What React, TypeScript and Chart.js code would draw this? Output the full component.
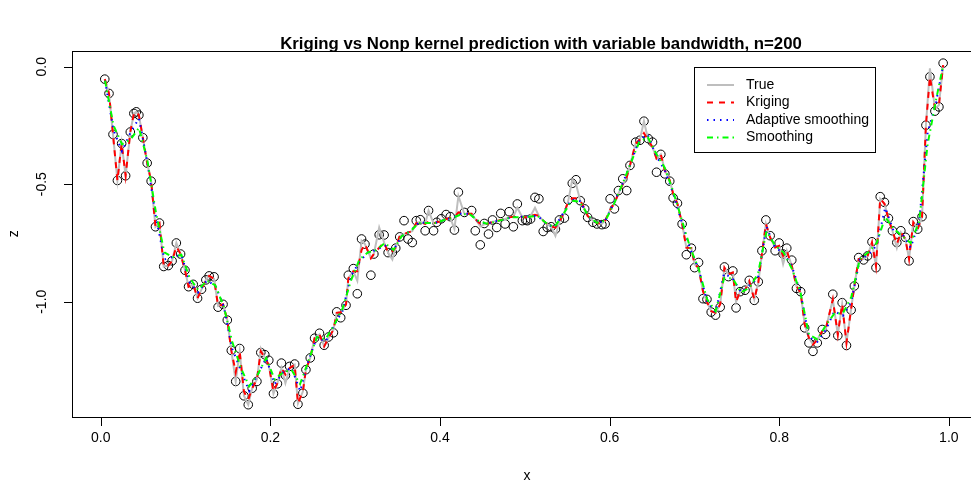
import React, { useEffect, useRef } from "react";
import { Chart, registerables } from "chart.js";

Chart.register(...registerables);

const TITLE = "Kriging vs Nonp kernel prediction with variable bandwidth, n=200";
const X_TICKS = [0, 0.2, 0.4, 0.6, 0.8, 1.0];
const X_TICK_LABELS = ["0.0", "0.2", "0.4", "0.6", "0.8", "1.0"];
const Y_TICKS = [0, -0.5, -1.0];
const Y_TICK_LABELS = ["0.0", "-0.5", "-1.0"];
const LEGEND_LABELS = ["True", "Kriging", "Adaptive smoothing", "Smoothing"];

const xObs = [
  0.0047, 0.0097, 0.0144, 0.0196, 0.0246, 0.0293, 0.0348, 0.0390, 0.0419, 0.0449,
  0.0496, 0.0547, 0.0594, 0.0645, 0.0692, 0.0742, 0.0797, 0.0841, 0.0891, 0.0941,
  0.0993, 0.1035, 0.1090, 0.1141, 0.1188, 0.1239, 0.1278, 0.1336, 0.1383, 0.1442,
  0.1492, 0.1539, 0.1591, 0.1638, 0.1688, 0.1739, 0.1785, 0.1841, 0.1887, 0.1934,
  0.1981, 0.2036, 0.2083, 0.2130, 0.2177, 0.2227, 0.2286, 0.2325, 0.2383, 0.2419,
  0.2470, 0.2521, 0.2579, 0.2634, 0.2685, 0.2743, 0.2782, 0.2829, 0.2892, 0.2919,
  0.2978, 0.3025, 0.3075, 0.3115, 0.3185, 0.3220, 0.3283, 0.3341, 0.3388, 0.3438,
  0.3478, 0.3525, 0.3576, 0.3623, 0.3673, 0.3720, 0.3767, 0.3825, 0.3865, 0.3924,
  0.3962, 0.4015, 0.4072, 0.4121, 0.4170, 0.4217, 0.4287, 0.4373, 0.4416, 0.4475,
  0.4522, 0.4572, 0.4619, 0.4669, 0.4716, 0.4768, 0.4815, 0.4865, 0.4912, 0.4971,
  0.5009, 0.5029, 0.5068, 0.5120, 0.5166, 0.5217, 0.5264, 0.5311, 0.5361, 0.5408,
  0.5467, 0.5510, 0.5560, 0.5604, 0.5654, 0.5706, 0.5741, 0.5803, 0.5850, 0.5909,
  0.5947, 0.6006, 0.6057, 0.6104, 0.6155, 0.6202, 0.6240, 0.6307, 0.6358, 0.6405,
  0.6456, 0.6506, 0.6553, 0.6604, 0.6651, 0.6709, 0.6749, 0.6800, 0.6855, 0.6905,
  0.6964, 0.7002, 0.7049, 0.7101, 0.7148, 0.7198, 0.7249, 0.7304, 0.7354, 0.7401,
  0.7453, 0.7491, 0.7538, 0.7597, 0.7647, 0.7706, 0.7753, 0.7796, 0.7843, 0.7893,
  0.7952, 0.7999, 0.8046, 0.8089, 0.8148, 0.8203, 0.8253, 0.8300, 0.8351, 0.8398,
  0.8449, 0.8508, 0.8546, 0.8632, 0.8691, 0.8742, 0.8793, 0.8848, 0.8886, 0.8937,
  0.8995, 0.9042, 0.9094, 0.9141, 0.9191, 0.9241, 0.9288, 0.9335, 0.9387, 0.9434,
  0.9488, 0.9531, 0.9581, 0.9633, 0.9684, 0.9730, 0.9777, 0.9836, 0.9883, 0.9933,
];

const zObs = [
  -0.053, -0.114, -0.288, -0.484, -0.327, -0.464, -0.278, -0.199, -0.192, -0.206,
  -0.302, -0.410, -0.487, -0.681, -0.665, -0.850, -0.846, -0.826, -0.750, -0.797,
  -0.866, -0.936, -0.926, -0.985, -0.947, -0.907, -0.890, -0.894, -1.023, -1.011,
  -1.078, -1.207, -1.339, -1.199, -1.400, -1.438, -1.368, -1.339, -1.216, -1.225,
  -1.249, -1.391, -1.349, -1.261, -1.313, -1.275, -1.265, -1.436, -1.389, -1.289,
  -1.239, -1.155, -1.134, -1.185, -1.150, -1.132, -1.043, -1.068, -1.015, -0.887,
  -0.859, -0.966, -0.733, -0.755, -0.887, -0.797, -0.715, -0.716, -0.791, -0.791,
  -0.772, -0.724, -0.655, -0.733, -0.748, -0.655, -0.651, -0.698, -0.612, -0.698,
  -0.662, -0.647, -0.629, -0.638, -0.695, -0.534, -0.620, -0.612, -0.698, -0.758,
  -0.667, -0.712, -0.652, -0.684, -0.624, -0.669, -0.617, -0.681, -0.584, -0.655,
  -0.652, -0.655, -0.648, -0.556, -0.562, -0.701, -0.684, -0.681, -0.691, -0.652,
  -0.644, -0.567, -0.496, -0.481, -0.570, -0.605, -0.641, -0.662, -0.669, -0.672,
  -0.669, -0.562, -0.605, -0.527, -0.477, -0.527, -0.420, -0.321, -0.313, -0.232,
  -0.306, -0.321, -0.449, -0.373, -0.456, -0.487, -0.558, -0.581, -0.669, -0.800,
  -0.772, -0.855, -0.833, -0.987, -0.990, -1.044, -1.057, -1.023, -0.852, -0.893,
  -0.869, -1.026, -0.957, -0.951, -0.909, -0.994, -0.915, -0.783, -0.652, -0.719,
  -0.783, -0.750, -0.797, -0.772, -0.823, -0.943, -0.957, -1.111, -1.175, -1.211,
  -1.175, -1.118, -1.139, -0.968, -1.144, -1.004, -1.186, -1.035, -0.933, -0.812,
  -0.822, -0.805, -0.745, -0.855, -0.553, -0.577, -0.645, -0.698, -0.748, -0.698,
  -0.726, -0.826, -0.659, -0.691, -0.638, -0.249, -0.043, -0.189, -0.171, 0.015,
];

const zTrue = [
  -0.053, -0.114, -0.288, -0.484, -0.327, -0.464, -0.278, -0.199, -0.192, -0.206,
  -0.302, -0.410, -0.487, -0.681, -0.665, -0.850, -0.846, -0.826, -0.750, -0.797,
  -0.866, -0.936, -0.926, -0.985, -0.947, -0.907, -0.890, -0.903, -1.018, -1.011,
  -1.078, -1.207, -1.339, -1.211, -1.400, -1.438, -1.368, -1.331, -1.200, -1.239,
  -1.268, -1.391, -1.346, -1.282, -1.346, -1.282, -1.268, -1.432, -1.382, -1.288,
  -1.239, -1.155, -1.139, -1.190, -1.154, -1.120, -1.047, -1.045, -1.011, -0.900,
  -0.870, -0.911, -0.740, -0.755, -0.815, -0.797, -0.684, -0.748, -0.791, -0.820,
  -0.769, -0.720, -0.712, -0.705, -0.700, -0.665, -0.660, -0.669, -0.612, -0.667,
  -0.662, -0.657, -0.648, -0.643, -0.690, -0.550, -0.626, -0.626, -0.648, -0.680,
  -0.670, -0.667, -0.660, -0.657, -0.652, -0.648, -0.641, -0.638, -0.600, -0.640,
  -0.640, -0.640, -0.635, -0.600, -0.635, -0.655, -0.670, -0.680, -0.720, -0.660,
  -0.620, -0.575, -0.480, -0.500, -0.570, -0.605, -0.635, -0.655, -0.665, -0.668,
  -0.655, -0.610, -0.580, -0.540, -0.500, -0.470, -0.420, -0.327, -0.310, -0.232,
  -0.313, -0.342, -0.390, -0.373, -0.441, -0.484, -0.540, -0.583, -0.669, -0.770,
  -0.772, -0.840, -0.856, -0.955, -1.000, -1.040, -1.047, -1.010, -0.855, -0.883,
  -0.875, -1.000, -0.957, -0.951, -0.912, -0.990, -0.919, -0.797, -0.669, -0.726,
  -0.769, -0.762, -0.840, -0.783, -0.847, -0.933, -0.962, -1.096, -1.154, -1.182,
  -1.161, -1.125, -1.120, -0.990, -1.140, -1.010, -1.175, -1.031, -0.933, -0.818,
  -0.818, -0.805, -0.748, -0.848, -0.562, -0.583, -0.647, -0.698, -0.770, -0.705,
  -0.733, -0.818, -0.662, -0.690, -0.641, -0.249, -0.007, -0.177, -0.164, 0.007,
];

const zKrig = [
  -0.053, -0.114, -0.288, -0.484, -0.327, -0.464, -0.278, -0.199, -0.192, -0.206,
  -0.302, -0.410, -0.487, -0.681, -0.665, -0.850, -0.846, -0.826, -0.765, -0.797,
  -0.866, -0.936, -0.926, -0.985, -0.947, -0.907, -0.890, -0.903, -1.018, -1.011,
  -1.078, -1.207, -1.300, -1.211, -1.382, -1.416, -1.368, -1.331, -1.211, -1.239,
  -1.268, -1.382, -1.346, -1.282, -1.310, -1.282, -1.268, -1.432, -1.382, -1.288,
  -1.239, -1.155, -1.139, -1.190, -1.154, -1.120, -1.047, -1.045, -1.011, -0.900,
  -0.870, -0.870, -0.780, -0.755, -0.815, -0.797, -0.770, -0.748, -0.791, -0.785,
  -0.769, -0.720, -0.712, -0.705, -0.700, -0.665, -0.660, -0.669, -0.660, -0.667,
  -0.662, -0.657, -0.648, -0.643, -0.640, -0.620, -0.626, -0.626, -0.648, -0.669,
  -0.670, -0.667, -0.660, -0.657, -0.652, -0.648, -0.641, -0.638, -0.636, -0.640,
  -0.640, -0.640, -0.635, -0.630, -0.635, -0.655, -0.670, -0.680, -0.685, -0.660,
  -0.620, -0.575, -0.560, -0.560, -0.570, -0.605, -0.635, -0.655, -0.665, -0.668,
  -0.655, -0.610, -0.580, -0.540, -0.500, -0.470, -0.420, -0.327, -0.310, -0.283,
  -0.313, -0.342, -0.390, -0.373, -0.441, -0.484, -0.540, -0.583, -0.669, -0.770,
  -0.772, -0.840, -0.856, -0.955, -1.000, -1.040, -1.047, -1.010, -0.855, -0.883,
  -0.875, -1.000, -0.957, -0.951, -0.912, -0.990, -0.919, -0.797, -0.669, -0.726,
  -0.769, -0.762, -0.805, -0.783, -0.847, -0.933, -0.962, -1.096, -1.154, -1.182,
  -1.161, -1.125, -1.120, -0.990, -1.140, -1.010, -1.175, -1.031, -0.933, -0.818,
  -0.818, -0.805, -0.748, -0.848, -0.562, -0.583, -0.647, -0.698, -0.755, -0.705,
  -0.733, -0.818, -0.662, -0.690, -0.641, -0.249, -0.043, -0.177, -0.164, 0.007,
];

const xGrid = [
  0.005, 0.015, 0.025, 0.035, 0.045, 0.055, 0.065, 0.075, 0.085, 0.095,
  0.105, 0.115, 0.125, 0.135, 0.145, 0.155, 0.165, 0.175, 0.185, 0.195,
  0.205, 0.215, 0.225, 0.235, 0.245, 0.255, 0.265, 0.275, 0.285, 0.295,
  0.305, 0.315, 0.325, 0.335, 0.345, 0.355, 0.365, 0.375, 0.385, 0.395,
  0.405, 0.415, 0.425, 0.435, 0.445, 0.455, 0.465, 0.475, 0.485, 0.495,
  0.505, 0.515, 0.525, 0.535, 0.545, 0.555, 0.565, 0.575, 0.585, 0.595,
  0.605, 0.615, 0.625, 0.635, 0.645, 0.655, 0.665, 0.675, 0.685, 0.695,
  0.705, 0.715, 0.725, 0.735, 0.745, 0.755, 0.765, 0.775, 0.785, 0.795,
  0.805, 0.815, 0.825, 0.835, 0.845, 0.855, 0.865, 0.875, 0.885, 0.895,
  0.905, 0.915, 0.925, 0.935, 0.945, 0.955, 0.965, 0.975, 0.985, 0.993,
];

const zAdaptive = [
  -0.06, -0.27, -0.36, -0.28, -0.22, -0.41, -0.64, -0.82, -0.81, -0.80,
  -0.92, -0.96, -0.91, -0.93, -1.02, -1.20, -1.29, -1.38, -1.31, -1.24,
  -1.35, -1.30, -1.28, -1.38, -1.25, -1.15, -1.17, -1.10, -1.04, -0.89,
  -0.83, -0.79, -0.78, -0.76, -0.78, -0.72, -0.70, -0.662, -0.665, -0.664,
  -0.652, -0.642, -0.625, -0.626, -0.658, -0.668, -0.658, -0.650, -0.640, -0.639,
  -0.637, -0.634, -0.668, -0.684, -0.625, -0.565, -0.572, -0.638, -0.666, -0.655,
  -0.58, -0.50, -0.41, -0.31, -0.29, -0.38, -0.44, -0.54, -0.66, -0.775,
  -0.86, -1.00, -1.045, -0.88, -0.90, -0.96, -0.93, -0.90, -0.68, -0.77,
  -0.79, -0.85, -0.96, -1.15, -1.17, -1.12, -1.04, -1.06, -1.00, -0.82,
  -0.80, -0.76, -0.60, -0.70, -0.71, -0.77, -0.66, -0.28, -0.15, 0.0,
];

const zSmooth = [
  -0.06, -0.25, -0.33, -0.31, -0.26, -0.40, -0.62, -0.79, -0.81, -0.80,
  -0.90, -0.95, -0.91, -0.93, -1.02, -1.17, -1.28, -1.36, -1.31, -1.24,
  -1.33, -1.30, -1.29, -1.35, -1.25, -1.15, -1.16, -1.10, -1.03, -0.91,
  -0.82, -0.79, -0.78, -0.75, -0.78, -0.72, -0.70, -0.665, -0.665, -0.665,
  -0.652, -0.643, -0.628, -0.628, -0.655, -0.668, -0.660, -0.650, -0.640, -0.640,
  -0.638, -0.635, -0.665, -0.682, -0.630, -0.570, -0.575, -0.635, -0.665, -0.655,
  -0.585, -0.50, -0.41, -0.32, -0.30, -0.37, -0.43, -0.53, -0.65, -0.77,
  -0.86, -0.99, -1.04, -0.90, -0.90, -0.96, -0.94, -0.88, -0.70, -0.76,
  -0.79, -0.86, -0.96, -1.14, -1.16, -1.10, -1.05, -1.05, -0.98, -0.82,
  -0.79, -0.75, -0.64, -0.69, -0.72, -0.75, -0.66, -0.33, -0.14, 0.0,
];

const FONT = "'Liberation Sans', Arial, Helvetica, sans-serif";
const COL_TRUE = "#BEBEBE";
const COL_KRIG = "#FF0000";
const COL_ADAPT = "#0000FF";
const COL_SMOOTH = "#00FF00";
const DASH_KRIG = [6, 6];
const DASH_ADAPT = [1.5, 5];
const DASH_SMOOTH = [6, 4, 1.5, 4];

const pts = (xs: number[], ys: number[]) => xs.map((x, i) => ({ x, y: ys[i] }));

const decor = {
  id: "rDecor",
  afterDraw(chart: any) {
    const { ctx, chartArea: ca, scales } = chart;
    const xs = scales.x;
    const ys = scales.y;
    ctx.save();
    ctx.strokeStyle = "#000";
    ctx.lineWidth = 1;
    ctx.setLineDash([]);
    // box
    ctx.strokeRect(Math.round(ca.left) + 0.5, Math.round(ca.top) + 0.5, ca.right - ca.left + 30, Math.round(ca.bottom - ca.top));
    const bottom = Math.round(ca.bottom) + 0.5;
    const left = Math.round(ca.left) + 0.5;
    // x axis
    ctx.beginPath();
    ctx.moveTo(xs.getPixelForValue(X_TICKS[0]), bottom);
    ctx.lineTo(xs.getPixelForValue(X_TICKS[X_TICKS.length - 1]), bottom);
    X_TICKS.forEach((v) => {
      const px = Math.round(xs.getPixelForValue(v)) + 0.5;
      ctx.moveTo(px, bottom);
      ctx.lineTo(px, bottom + 8.5);
    });
    // y axis
    ctx.moveTo(left, ys.getPixelForValue(Y_TICKS[0]));
    ctx.lineTo(left, ys.getPixelForValue(Y_TICKS[Y_TICKS.length - 1]));
    Y_TICKS.forEach((v) => {
      const py = Math.round(ys.getPixelForValue(v)) + 0.5;
      ctx.moveTo(left, py);
      ctx.lineTo(left - 8.5, py);
    });
    ctx.stroke();

    ctx.fillStyle = "#000";
    ctx.font = `14px ${FONT}`;
    ctx.textAlign = "center";
    ctx.textBaseline = "middle";
    X_TICKS.forEach((v, i) => {
      ctx.fillText(X_TICK_LABELS[i], xs.getPixelForValue(v), bottom + 21);
    });
    Y_TICKS.forEach((v, i) => {
      ctx.save();
      ctx.translate(left - 30, ys.getPixelForValue(v));
      ctx.rotate(-Math.PI / 2);
      ctx.fillText(Y_TICK_LABELS[i], 0, 0);
      ctx.restore();
    });
    // axis titles
    ctx.fillText("x", 527, 476);
    ctx.save();
    ctx.translate(14, (ca.top + ca.bottom) / 2);
    ctx.rotate(-Math.PI / 2);
    ctx.fillText("z", 0, 0);
    ctx.restore();
    // title
    ctx.font = `bold 16.8px ${FONT}`;
    ctx.fillText(TITLE, 541, 44);

    // legend
    const lx = 694.5, ly = 67.5, lw = 181, lh = 85;
    ctx.fillStyle = "#fff";
    ctx.fillRect(lx, ly, lw, lh);
    ctx.strokeStyle = "#000";
    ctx.strokeRect(lx, ly, lw, lh);
    const rows = [85, 102.5, 120, 137.5];
    const styles = [
      { c: COL_TRUE, d: [] as number[], w: 2 },
      { c: COL_KRIG, d: DASH_KRIG, w: 2 },
      { c: COL_ADAPT, d: DASH_ADAPT, w: 2 },
      { c: COL_SMOOTH, d: DASH_SMOOTH, w: 2 },
    ];
    ctx.font = `14px ${FONT}`;
    ctx.textAlign = "left";
    rows.forEach((ry, i) => {
      const s = styles[i];
      ctx.strokeStyle = s.c;
      ctx.lineWidth = s.w;
      ctx.setLineDash(s.d);
      ctx.beginPath();
      ctx.moveTo(707, ry);
      ctx.lineTo(734, ry);
      ctx.stroke();
      ctx.setLineDash([]);
      ctx.fillStyle = "#000";
      ctx.fillText(LEGEND_LABELS[i], 746, ry);
    });
    ctx.restore();
  },
};

export default function App() {
  const ref = useRef<HTMLCanvasElement | null>(null);
  useEffect(() => {
    document.body.style.margin = "0";
    const canvas = ref.current;
    if (!canvas) return;
    const chart = new Chart(canvas, {
      type: "scatter",
      data: {
        datasets: [
          {
            label: "Smoothing",
            data: pts(xGrid, zSmooth),
            showLine: true,
            borderColor: COL_SMOOTH,
            borderWidth: 2,
            borderDash: DASH_SMOOTH,
            pointRadius: 0,
            order: 0,
          },
          {
            label: "Adaptive smoothing",
            data: pts(xGrid, zAdaptive),
            showLine: true,
            borderColor: COL_ADAPT,
            borderWidth: 2,
            borderDash: DASH_ADAPT,
            pointRadius: 0,
            order: 1,
          },
          {
            label: "Kriging",
            data: pts(xObs, zKrig),
            showLine: true,
            borderColor: COL_KRIG,
            borderWidth: 2,
            borderDash: DASH_KRIG,
            pointRadius: 0,
            order: 2,
          },
          {
            label: "True",
            data: pts(xObs, zTrue),
            showLine: true,
            borderColor: COL_TRUE,
            borderWidth: 2,
            pointRadius: 0,
            order: 3,
          },
          {
            label: "Data",
            data: pts(xObs, zObs),
            showLine: false,
            pointRadius: 4.3,
            pointBorderColor: "#000",
            pointBackgroundColor: "rgba(0,0,0,0)",
            pointBorderWidth: 1,
            order: 4,
          },
        ] as any,
      },
      options: {
        animation: false,
        responsive: false,
        devicePixelRatio: 1,
        events: [],
        layout: { padding: { left: 71.7, top: 50.7, right: 0, bottom: 70.3 } },
        scales: {
          x: { type: "linear", min: -0.0343, max: 1.0199, display: false },
          y: { type: "linear", min: -1.489, max: 0.068, display: false },
        },
        plugins: {
          legend: { display: false },
          tooltip: { enabled: false },
          title: { display: false },
        },
      } as any,
      plugins: [decor],
    });
    return () => chart.destroy();
  }, []);
  return (
    <div style={{ width: 971, height: 487, background: "#fff" }}>
      <canvas ref={ref} width={971} height={487} style={{ display: "block" }} />
    </div>
  );
}
